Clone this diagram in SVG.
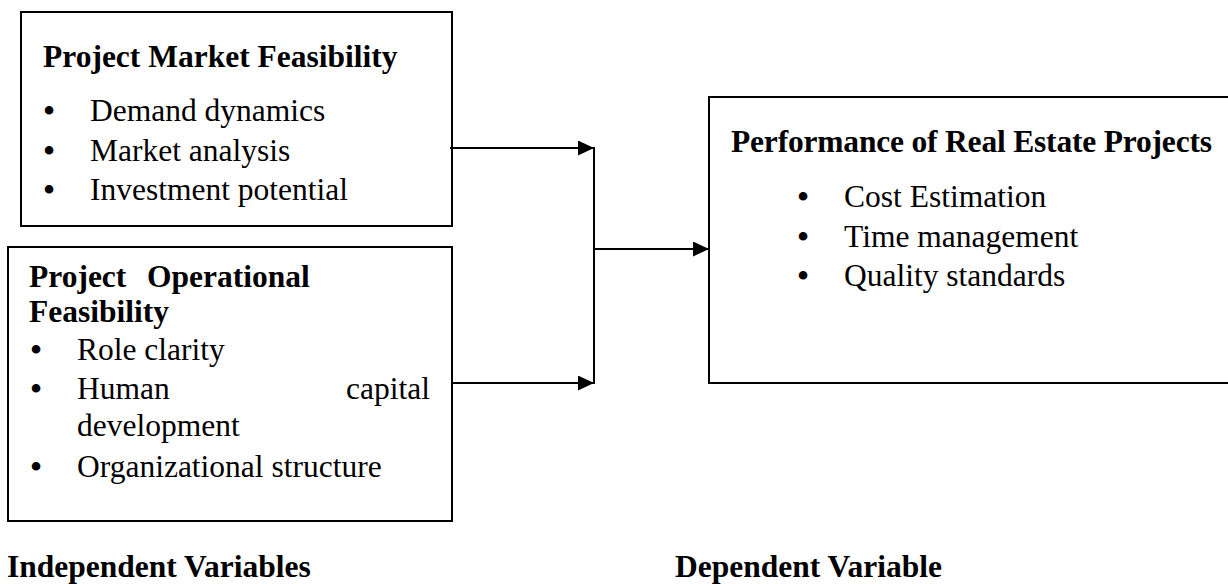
<svg xmlns="http://www.w3.org/2000/svg" width="1228" height="584" viewBox="0 0 1228 584">
<style>
.box{fill:#fff;stroke:#000;stroke-width:2}
.t{font-family:"Liberation Serif","Times New Roman",serif;font-size:31.5px;fill:#000}
.b{font-weight:bold}
.bul{font-family:"Liberation Serif","Times New Roman",serif;font-size:36px;fill:#000;text-anchor:middle}
.ln{stroke:#000;stroke-width:2;fill:none}
</style>
<defs>
<marker id="ah" markerUnits="userSpaceOnUse" markerWidth="16" markerHeight="15" refX="16" refY="7.5" orient="auto">
<path d="M0,0 L16,7.5 L0,15 z" fill="#000"/>
</marker>
</defs>
<rect width="1228" height="584" fill="#fff"/>
<g id="market">
<rect class="box" x="21" y="12" width="431" height="214"/>
<text class="t b" x="43" y="67">Project Market Feasibility</text>
<text class="bul" x="49" y="123">•</text><text class="t" x="90" y="121">Demand dynamics</text>
<text class="bul" x="49" y="163">•</text><text class="t" x="90" y="161">Market analysis</text>
<text class="bul" x="49" y="202">•</text><text class="t" x="90" y="200">Investment potential</text>
</g>
<g id="operational">
<rect class="box" x="8" y="247" width="444" height="274"/>
<text class="t b" y="287"><tspan x="29">Project</tspan><tspan x="147">Operational</tspan></text>
<text class="t b" x="29" y="322">Feasibility</text>
<text class="bul" x="36" y="362">•</text><text class="t" x="77" y="360">Role clarity</text>
<text class="bul" x="36" y="401">•</text><text class="t" x="77" y="399">Human</text><text class="t" x="430" y="399" text-anchor="end">capital</text>
<text class="t" x="77" y="436">development</text>
<text class="bul" x="36" y="479">•</text><text class="t" x="77" y="477">Organizational structure</text>
</g>
<g id="performance">
<rect class="box" x="709" y="97" width="540" height="286"/>
<text class="t b" x="731" y="152" textLength="481" lengthAdjust="spacing">Performance of Real Estate Projects</text>
<text class="bul" x="803" y="209">•</text><text class="t" x="844" y="207">Cost Estimation</text>
<text class="bul" x="803" y="249">•</text><text class="t" x="844" y="247">Time management</text>
<text class="bul" x="803" y="288">•</text><text class="t" x="844" y="286">Quality standards</text>
</g>
<g id="connectors">
<line class="ln" x1="450" y1="148" x2="594" y2="148" marker-end="url(#ah)"/>
<line class="ln" x1="452" y1="383" x2="594" y2="383" marker-end="url(#ah)"/>
<line class="ln" x1="594" y1="147" x2="594" y2="384"/>
<line class="ln" x1="594" y1="249" x2="709" y2="249" marker-end="url(#ah)"/>
</g>
<g id="labels">
<text class="t b" x="7" y="577">Independent Variables</text>
<text class="t b" x="675" y="577">Dependent Variable</text>
</g>
</svg>
